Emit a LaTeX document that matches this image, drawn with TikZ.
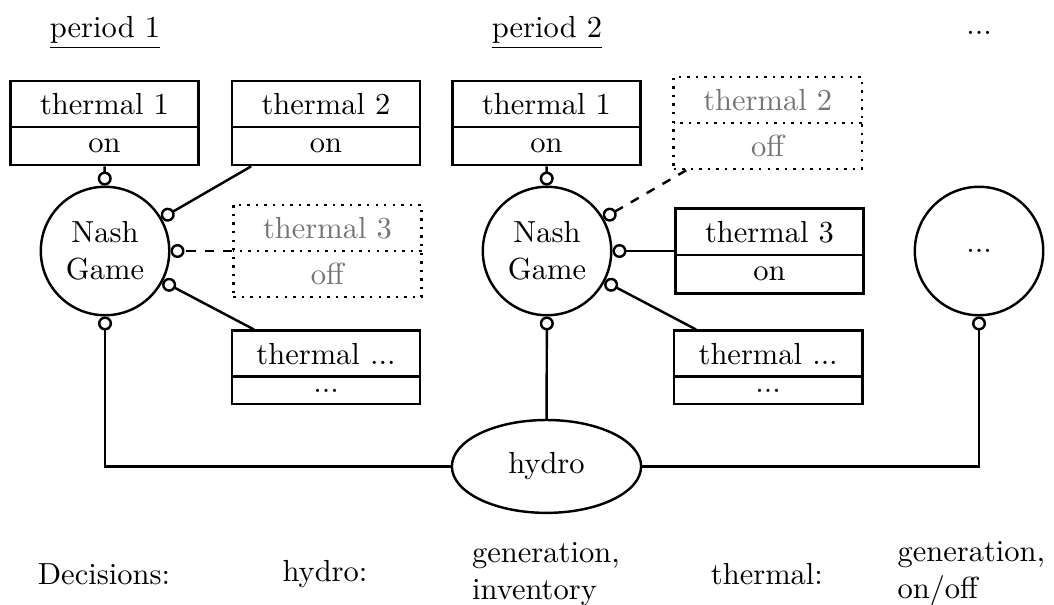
\documentclass[tikz,border=0pt]{standalone}
\usetikzlibrary{positioning,shapes.multipart,shapes.geometric,arrows.meta}

\begin{document}
\begin{tikzpicture}[thick,
	nash/.style={circle,draw,minimum size=1.48cm,inner sep=0pt,align=center},
	unit/.style={rectangle split,rectangle split parts=2,draw,minimum width=2.17cm,inner ysep=3.6pt},
	offunit/.style={unit,dotted,text=black!55},
	link/.style={-{Circle[open,length=4.6pt]}},
	offlink/.style={link,dashed}]
	\useasboundingbox (0,0) rectangle (12.143,6.970);
	\node (p1) at (1.210,6.590) {\underline{period 1}};
	\node (p2) at (6.302,6.590) {\underline{period 2}};
	\node (p3) at (11.279,6.590) {...};
	\node[nash] (n1) at (1.210,4.078) {Nash\\Game};
	\node[nash] (n2) at (6.302,4.078) {Nash\\Game};
	\node[nash] (n3) at (11.279,4.078) {...};
	\node[unit] (t11) at (1.204,5.553) {thermal 1\nodepart{two}on};
	\node[unit] (t12) at (3.756,5.553) {thermal 2\nodepart{two}on};
	\node[offunit,right=0.71cm of n1] (t13) {thermal 3\nodepart{two}off};
	\node[unit] (t14) at (3.756,2.736) {thermal ...\nodepart{two}...};
	\node[unit] (t21) at (6.296,5.553) {thermal 1\nodepart{two}on};
	\node[offunit] (t22) at (8.845,5.553) {thermal 2\nodepart{two}off};
	\node[unit,right=0.71cm of n2] (t23) {thermal 3\nodepart{two}on};
	\node[unit] (t24) at (8.850,2.736) {thermal ...\nodepart{two}...};
	\node[ellipse,draw,minimum width=2.18cm,minimum height=1.07cm,inner sep=0pt] (h) at (6.296,1.596) {hydro};
	\draw[link] (t11) -- (n1);
	\draw[link] (t12) -- (n1);
	\draw[offlink] (t13) -- (n1);
	\draw[link] (t14) -- (n1);
	\draw[link] (t21) -- (n2);
	\draw[offlink] (t22) -- (n2);
	\draw[link] (t23) -- (n2);
	\draw[link] (t24) -- (n2);
	\draw[link] (h) -| (n1);
	\draw[link] (h) -- (n2);
	\draw[link] (h) -| (n3);
	\node (d0) at (1.198,0.357) {Decisions:};
	\node (d1) at (3.744,0.357) {hydro:};
	\node[align=left] (d2) at (6.290,0.357) {generation,\\inventory};
	\node (d3) at (8.836,0.357) {thermal:};
	\node[align=left] (d4) at (11.190,0.357) {generation,\\on/off};
\end{tikzpicture}
\end{document}
